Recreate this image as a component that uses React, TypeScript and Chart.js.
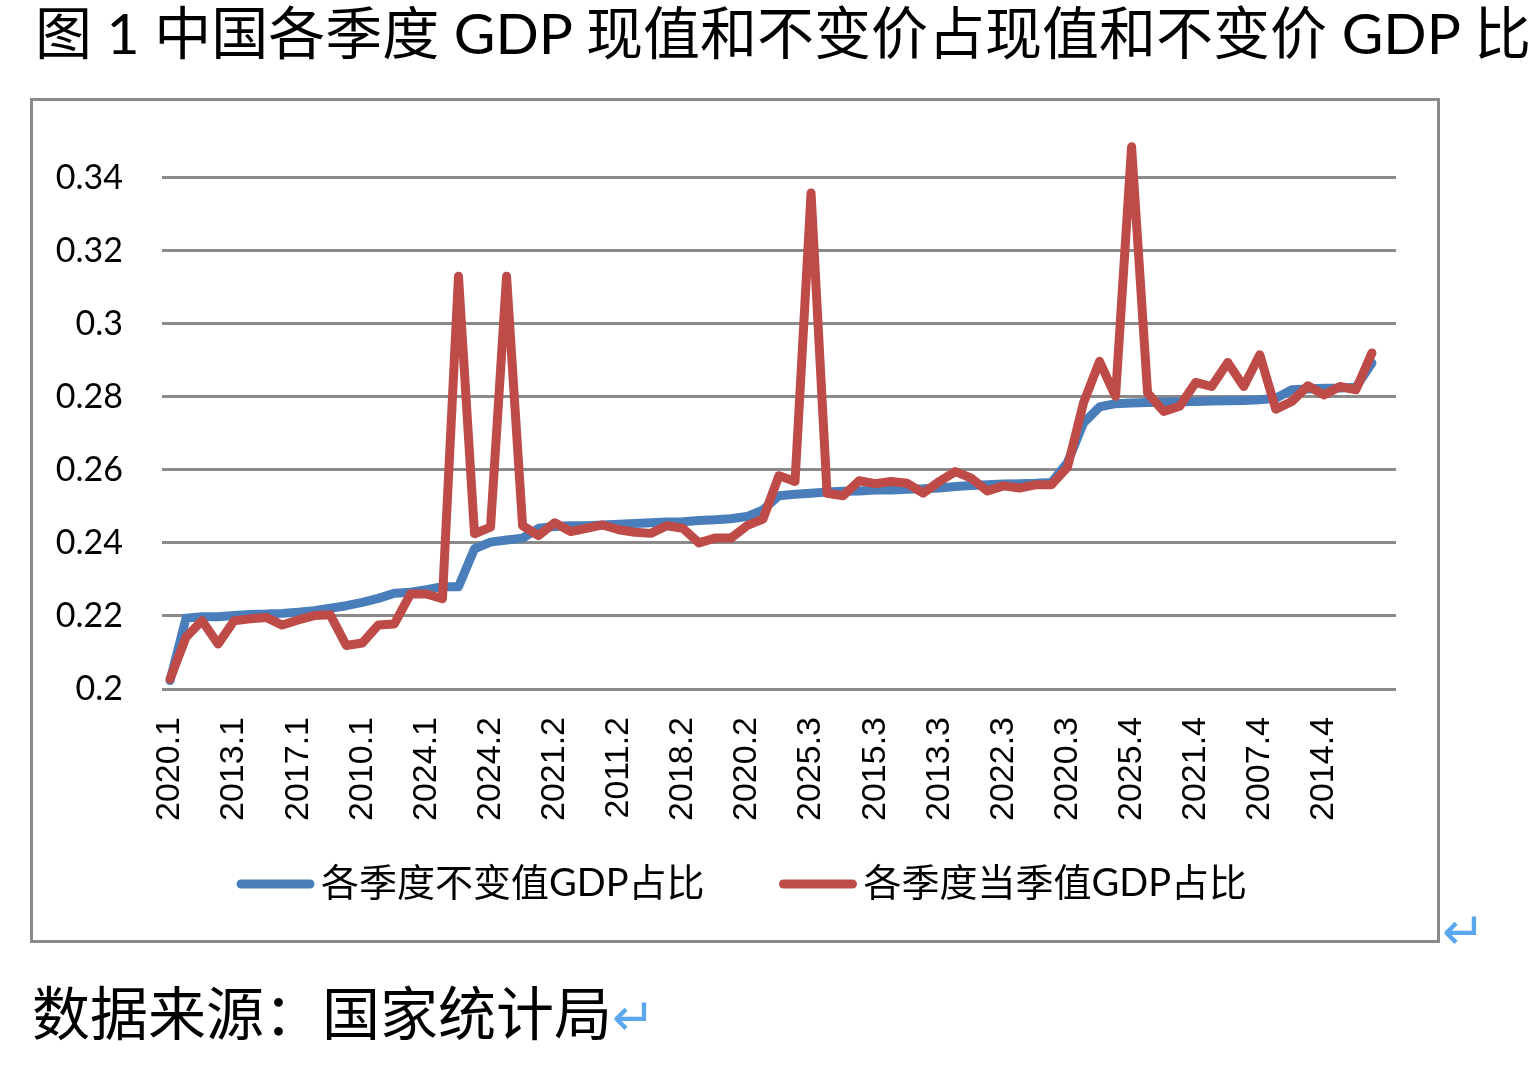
import React, { useEffect, useRef } from "react";
import { Chart, registerables } from "chart.js";

Chart.register(...registerables);

// Category labels (sorted by constant-price share within each quarter); last slot is an empty category
const categories: string[] = [
  "2020.1", "2008.1", "2009.1", "2011.1", "2013.1", "2012.1", "2014.1", "2015.1", "2017.1", "2016.1",
  "2018.1", "2019.1", "2010.1", "2007.1", "2021.1", "2022.1", "2024.1", "2023.1", "2025.1",
  "2023.2", "2024.2", "2025.2", "2022.2", "2019.2", "2021.2", "2016.2", "2015.2", "2014.2", "2011.2",
  "2013.2", "2012.2", "2017.2", "2018.2", "2010.2", "2009.2", "2008.2", "2020.2", "2007.2",
  "2023.3", "2024.3", "2025.3", "2021.3", "2019.3", "2018.3", "2015.3", "2016.3", "2017.3", "2014.3",
  "2013.3", "2012.3", "2011.3", "2010.3", "2022.3", "2009.3", "2008.3", "2007.3", "2020.3",
  "2024.4", "2023.4", "2022.4", "2025.4", "2020.4", "2019.4", "2018.4", "2021.4", "2017.4", "2016.4",
  "2008.4", "2007.4", "2009.4", "2010.4", "2011.4", "2014.4", "2013.4", "2012.4", "2015.4",
  "",
];

// 各季度不变值GDP占比
const constantShare: number[] = [
  0.2023, 0.2194, 0.2198, 0.2198, 0.2201, 0.2204, 0.2205, 0.2207, 0.221, 0.2214,
  0.2221, 0.2228, 0.2237, 0.2248, 0.2262, 0.2265, 0.2272, 0.228, 0.228,
  0.2384, 0.2402, 0.2408, 0.2413, 0.244, 0.2445, 0.2447, 0.2447, 0.2449, 0.2451,
  0.2453, 0.2455, 0.2457, 0.2458, 0.2461, 0.2463, 0.2466, 0.2472, 0.249,
  0.2529, 0.2533, 0.2536, 0.2539, 0.2541, 0.2542, 0.2545, 0.2545, 0.2547, 0.2548,
  0.255, 0.2554, 0.2557, 0.2559, 0.2561, 0.2562, 0.2563, 0.2565, 0.262,
  0.2728, 0.2772, 0.2781, 0.2783, 0.2784, 0.2785, 0.2786, 0.2787, 0.2788, 0.2789,
  0.279, 0.2792, 0.2796, 0.2819, 0.2821, 0.2823, 0.2824, 0.2826, 0.2892,
];

// 各季度当季值GDP占比
const currentShare: number[] = [
  0.2027, 0.2142, 0.2187, 0.2123, 0.2187, 0.2192, 0.2196, 0.2175, 0.2189, 0.2201,
  0.2203, 0.2119, 0.2126, 0.2175, 0.2178, 0.226, 0.226, 0.2247, 0.313,
  0.2425, 0.2443, 0.313, 0.2447, 0.242, 0.2455, 0.2431, 0.244, 0.2449, 0.2436,
  0.2429, 0.2426, 0.2447, 0.244, 0.24, 0.2413, 0.2413, 0.2447, 0.2465,
  0.2584, 0.2568, 0.3358, 0.2536, 0.2529, 0.257, 0.2562, 0.2568, 0.2563, 0.2536,
  0.2568, 0.2595, 0.2577, 0.2542, 0.2556, 0.255, 0.2559, 0.2559, 0.2607,
  0.2783, 0.2897, 0.2801, 0.3484, 0.281, 0.276, 0.2774, 0.2839, 0.2828, 0.2894,
  0.2828, 0.2915, 0.2766, 0.2787, 0.283, 0.2805, 0.2828, 0.2819, 0.292,
];

const yTicks: number[] = [0.2, 0.22, 0.24, 0.26, 0.28, 0.3, 0.32, 0.34];
const seriesNames: string[] = ["各季度不变值GDP占比", "各季度当季值GDP占比"];
const titleText = "图 1 中国各季度 GDP 现值和不变价占现值和不变价 GDP 比";
const sourceText = "数据来源：国家统计局";

const BLUE = "#4a7ebb";
const RED = "#be4b48";
const GRID = "#8a8a8a";
const MARK = "#5aa7ee";
const FONT = "Lato, 'Noto Sans CJK SC', sans-serif";

// Legend drawn under the axis labels, items in dataset order
const bottomLegend = {
  id: "bottomLegend",
  afterDraw(chart: any) {
    const o = chart.options.plugins.bottomLegend;
    const ctx = chart.ctx as CanvasRenderingContext2D;
    ctx.save();
    ctx.font = `${o.fontSize}px ${FONT}`;
    const items = chart.data.datasets.map((ds: any) => ({
      text: ds.label as string,
      color: ds.borderColor as string,
      lw: ds.borderWidth as number,
      w: ctx.measureText(ds.label).width,
    }));
    const total =
      items.reduce((s: number, it: any) => s + o.lineLen + o.gap + it.w, 0) +
      o.spacing * (items.length - 1);
    let x = o.centerX - total / 2;
    const y = o.y;
    for (const it of items) {
      ctx.strokeStyle = it.color;
      ctx.lineWidth = it.lw;
      ctx.lineCap = "round";
      ctx.beginPath();
      ctx.moveTo(x, y);
      ctx.lineTo(x + o.lineLen, y);
      ctx.stroke();
      ctx.fillStyle = "#000";
      ctx.textAlign = "left";
      ctx.textBaseline = "middle";
      ctx.fillText(it.text, x + o.lineLen + o.gap, y);
      x += o.lineLen + o.gap + it.w + o.spacing;
    }
    ctx.restore();
  },
};

export default function App() {
  const ref = useRef<HTMLCanvasElement>(null);

  useEffect(() => {
    document.body.style.margin = "0";
    const chart = new Chart(ref.current as HTMLCanvasElement, {
      type: "line",
      data: {
        labels: categories,
        datasets: [
          {
            label: seriesNames[0],
            data: constantShare,
            borderColor: BLUE,
            backgroundColor: BLUE,
            borderWidth: 9,
            pointRadius: 0,
            pointHoverRadius: 0,
            borderCapStyle: "round",
            borderJoinStyle: "round",
            tension: 0,
            fill: false,
            order: 1,
          },
          {
            label: seriesNames[1],
            data: currentShare,
            borderColor: RED,
            backgroundColor: RED,
            borderWidth: 9,
            pointRadius: 0,
            pointHoverRadius: 0,
            borderCapStyle: "round",
            borderJoinStyle: "round",
            tension: 0,
            fill: false,
            order: 0,
          },
        ],
      },
      plugins: [bottomLegend],
      options: {
        animation: false,
        responsive: false,
        maintainAspectRatio: false,
        events: [],
        layout: { padding: { left: 0, right: 41, top: 40, bottom: 0 } },
        plugins: {
          legend: { display: false },
          tooltip: { enabled: false },
          bottomLegend: { centerX: 711, y: 783, fontSize: 38, lineLen: 69, gap: 11, spacing: 79 },
        } as any,
        scales: {
          x: {
            type: "category",
            offset: true,
            grid: { display: false, drawTicks: false },
            border: { display: false },
            ticks: {
              autoSkip: false,
              minRotation: 90,
              maxRotation: 90,
              padding: 28,
              color: "#000",
              font: { family: "'Liberation Sans', Arial, sans-serif", size: 34 },
              callback: (_v: any, i: number) => (i % 4 === 0 ? categories[i] : ""),
            },
            afterFit: (s: any) => {
              s.height = 251;
              s.paddingLeft = 0;
              s.paddingRight = 0;
            },
          },
          y: {
            min: 0.2,
            max: 0.35,
            grid: { color: GRID, lineWidth: 3, drawTicks: false },
            border: { display: false },
            ticks: {
              padding: 39,
              color: "#000",
              font: { family: "Lato, sans-serif", size: 34 },
              callback: (v: any) => String(v),
            },
            afterBuildTicks: (s: any) => {
              s.ticks = yTicks.map((v) => ({ value: v }));
            },
            afterFit: (s: any) => {
              s.width = 129;
              s.paddingTop = 0;
              s.paddingBottom = 0;
            },
          },
        },
      },
    });
    return () => chart.destroy();
  }, []);

  return (
    <div
      style={{
        position: "absolute",
        left: 0,
        top: 0,
        width: 1532,
        height: 1066,
        overflow: "hidden",
        background: "#fff",
        fontFamily: FONT,
        color: "#000",
      }}
    >
      <div
        style={{
          position: "absolute",
          left: 35,
          top: 4,
          fontSize: 57,
          lineHeight: "57px",
          whiteSpace: "nowrap",
        }}
      >
        {titleText}
        <span style={{ color: MARK, fontFamily: "'DejaVu Sans', sans-serif", fontSize: 50 }}>↵</span>
      </div>
      <div
        style={{
          position: "absolute",
          left: 30,
          top: 98,
          width: 1410,
          height: 845,
          boxSizing: "border-box",
          border: `3px solid ${GRID}`,
          background: "#fff",
        }}
      >
        <canvas ref={ref} width={1404} height={839} style={{ display: "block", width: 1404, height: 839 }} />
      </div>
      <div
        style={{
          position: "absolute",
          left: 1442,
          top: 905,
          color: MARK,
          fontFamily: "'DejaVu Sans', sans-serif",
          fontSize: 52,
          lineHeight: "52px",
        }}
      >
        ↵
      </div>
      <div
        style={{
          position: "absolute",
          left: 32,
          top: 984,
          fontSize: 58,
          lineHeight: "58px",
          whiteSpace: "nowrap",
        }}
      >
        {sourceText}
        <span style={{ color: MARK, fontFamily: "'DejaVu Sans', sans-serif", fontSize: 52 }}>↵</span>
      </div>
    </div>
  );
}
